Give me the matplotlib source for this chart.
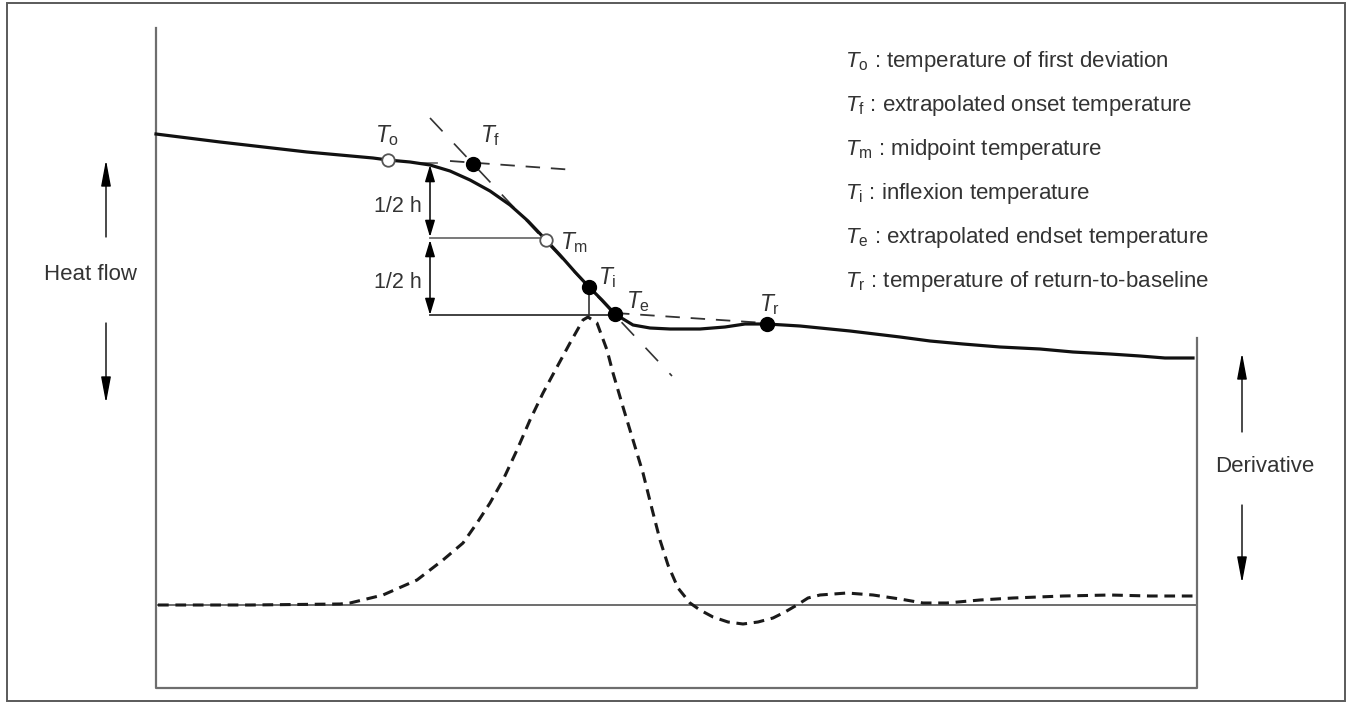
import matplotlib
matplotlib.use("Agg")
import matplotlib.pyplot as plt
from matplotlib.patches import Rectangle

plt.rcParams["font.family"] = ["Liberation Sans", "DejaVu Sans"]
plt.rcParams["mathtext.fontset"] = "custom"
plt.rcParams["mathtext.rm"] = "Liberation Sans"
plt.rcParams["mathtext.it"] = "Liberation Sans:italic"

# heat flow curve (pixel coords)
heat_x = [156, 220, 307, 373, 388, 410, 430, 450, 470, 490, 510, 528, 546, 560, 575,
          589, 602, 615, 633, 650, 670, 700, 725, 745, 767, 800, 850, 900, 930, 963,
          1000, 1040, 1073, 1110, 1140, 1165, 1193]
heat_y = [134, 142, 152, 158, 160, 162, 165, 171, 180, 191, 205, 221, 240, 255, 272,
          287, 300, 314, 325, 328, 329, 329, 327, 324, 324, 326, 331, 337, 341, 344,
          347, 349, 352, 354, 356, 358, 358]

# derivative curve
deriv_x = [158, 250, 340, 350, 383, 417, 443, 463, 477, 490, 503, 517, 530, 543, 557,
           570, 583, 588, 597, 607, 613, 623, 633, 643, 651, 660, 668, 678, 690, 700,
           713, 728, 743, 758, 773, 785, 797, 808, 820, 847, 873, 900, 923, 947, 980,
           1013, 1063, 1110, 1150, 1197]
deriv_y = [605, 605, 604, 603, 595, 580, 560, 543, 523, 503, 480, 450, 420, 393, 367,
           343, 320, 317, 323, 350, 373, 407, 440, 473, 505, 540, 565, 588, 603, 610,
           617, 622, 624, 622, 618, 612, 605, 598, 595, 593, 595, 599, 603, 603, 600,
           598, 596, 595, 596, 596]

# characteristic temperatures
pt_names = ["o", "f", "m", "i", "e", "r"]
pt_x = [388, 473, 546, 589, 615, 767]
pt_y = [160, 164, 240, 287, 314, 324]
pt_open = [True, False, True, False, False, False]
lab_x = [387, 490, 574, 607, 638, 770]
lab_y = [136, 136, 243, 278, 302, 305]

legend_text = [
    "temperature of first deviation",
    "extrapolated onset temperature",
    "midpoint temperature",
    "inflexion temperature",
    "extrapolated endset temperature",
    "temperature of return-to-baseline",
]

# construction lines
onset_x, onset_y = [450, 575], [161, 170]
tangent_x, tangent_y = [430, 672], [118, 376]
endset_x, endset_y = [615, 765], [313, 323]

fig = plt.figure(figsize=(13.48, 7.04), dpi=100)
ax = fig.add_axes([0, 0, 1, 1])
ax.set_xlim(0, 1348)
ax.set_ylim(704, 0)
ax.axis("off")

frame_c = "#6e6e6e"
txt_c = "#333333"
ax.add_patch(Rectangle((7, 3), 1338, 698, fill=False, ec="#5a5a5a", lw=1.4))

# axes frame
ax.plot([156, 156, 1197, 1197], [28, 688, 688, 338], color=frame_c, lw=1.6)
ax.plot([156, 1197], [605, 605], color=frame_c, lw=1.4)

# construction lines
ax.plot(onset_x, onset_y, color="#333333", lw=1.3, dashes=(8, 6))
ax.plot(tangent_x, tangent_y, color="#333333", lw=1.2, dashes=(11, 10))
ax.plot(endset_x, endset_y, color="#333333", lw=1.3, dashes=(8, 6))
ax.plot([422, 437], [163, 163], color=frame_c, lw=1.3)
ax.plot([430, 546], [238, 238], color=frame_c, lw=1.3)
ax.plot([430, 612], [315, 315], color="#333333", lw=1.3)
ax.plot([589, 589], [287, 315], color="#333333", lw=1.2)

# curves
ax.plot(deriv_x, deriv_y, color="#1a1a1a", lw=2.2, dashes=(3.5, 2.2))
ax.plot(heat_x, heat_y, color="#111111", lw=2.3, solid_joinstyle="round")

# markers
for x, y, op in zip(pt_x, pt_y, pt_open):
    if op:
        ax.plot(x, y, "o", ms=9, mfc="white", mec="#555555", mew=1.3, zorder=5)
    else:
        ax.plot(x, y, "o", ms=10, color="black", zorder=5)

for n, x, y in zip(pt_names, lab_x, lab_y):
    ax.text(x, y, r"$T_{\rm %s}$" % n, fontsize=16.5, color=txt_c,
            ha="center", va="center")

# 1/2 h arrows
aprops = dict(arrowstyle="<|-|>,head_length=1.0,head_width=0.3", color="black",
              lw=1.1, mutation_scale=10, shrinkA=0, shrinkB=0)
ax.annotate("", xy=(430, 165), xytext=(430, 237), arrowprops=aprops)
ax.annotate("", xy=(430, 240), xytext=(430, 315), arrowprops=aprops)
ax.text(398, 207, "1/2 h", fontsize=15.5, color=txt_c, ha="center", va="center")
ax.text(398, 282, "1/2 h", fontsize=15.5, color=txt_c, ha="center", va="center")

# side arrows
sprops = dict(arrowstyle="-|>,head_length=1.6,head_width=0.3", color="black",
              lw=1.0, mutation_scale=10, shrinkA=0, shrinkB=0)
ax.annotate("", xy=(106, 160), xytext=(106, 237), arrowprops=sprops)
ax.annotate("", xy=(106, 403), xytext=(106, 323), arrowprops=sprops)
ax.text(90, 274, "Heat flow", fontsize=16, color=txt_c, ha="center", va="center")
ax.annotate("", xy=(1242, 353), xytext=(1242, 432), arrowprops=sprops)
ax.annotate("", xy=(1242, 583), xytext=(1242, 505), arrowprops=sprops)
ax.text(1265, 467, "Derivative", fontsize=16, color=txt_c, ha="center", va="center")

# legend text
for i, (n, t) in enumerate(zip(pt_names, legend_text)):
    ax.text(845, 61 + i * 44, r"$T_{\rm %s}$ : %s" % (n, t), fontsize=16,
            color=txt_c, ha="left", va="center")

fig.savefig("out.png", dpi=100)
